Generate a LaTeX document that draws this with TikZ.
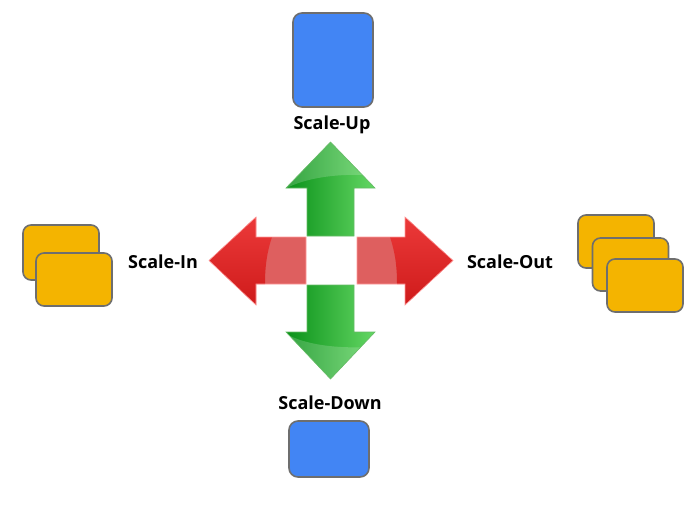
\documentclass[tikz,border=0pt]{standalone}
\usepackage{fontspec}
\setmainfont{Open Sans}
\usetikzlibrary{shapes.misc}
\definecolor{boxblue}{RGB}{66,133,244}
\definecolor{boxorange}{RGB}{244,180,0}
\definecolor{boxline}{RGB}{110,110,110}
\definecolor{gdark}{RGB}{10,145,25}
\definecolor{glight}{RGB}{100,215,100}
\definecolor{rdark}{RGB}{205,25,25}
\definecolor{rlight}{RGB}{238,60,60}
\definecolor{rshaft}{RGB}{222,95,95}
\tikzset{
  bluebox/.style={draw=boxline, line width=1.6pt, fill=boxblue, rounded corners=9pt, inner sep=0pt},
  orangebox/.style={draw=boxline, line width=1.6pt, fill=boxorange, rounded corners=8pt, inner sep=0pt},
  lbl/.style={font=\bfseries\fontsize{18}{21}\selectfont, inner sep=0pt},
  garrow/.style={left color=gdark, right color=glight},
  gedge/.style={draw=green!55!black!60!white, line width=0.6pt},
  redge/.style={draw=red!40!white, line width=0.6pt}
}
\begin{document}
\begin{tikzpicture}[x=1pt,y=-1pt]
\useasboundingbox (0,0) rectangle (693,509);
% boxes
\node[bluebox, minimum width=80pt, minimum height=94pt] (upbox) at (333,60) {};
\node[bluebox, minimum width=80pt, minimum height=56pt] (downbox) at (329,449) {};
\node[orangebox, minimum width=76pt, minimum height=55pt] (in1) at (61,252.5) {};
\node[orangebox, minimum width=76pt, minimum height=53pt] (in2) at (74,279.5) {};
\node[orangebox, minimum width=76pt, minimum height=53pt] (out1) at (616,241.5) {};
\node[orangebox, minimum width=76pt, minimum height=53pt] (out2) at (630.5,264.5) {};
\node[orangebox, minimum width=76pt, minimum height=53pt] (out3) at (645,285.5) {};
% labels
\node[lbl] (lup) at (332,125) {Scale-Up};
\node[lbl] (lin) at (163,262) {Scale-In};
\node[lbl] (lout) at (510,262) {Scale-Out};
\node[lbl] (ldown) at (330,403) {Scale-Down};
% up arrow
\path[garrow] (307,236) -- (307,188) -- (286,188) -- (330.5,142) -- (375,188) -- (354,188) -- (354,236) -- cycle;
\begin{scope}
\clip (307,236) -- (307,188) -- (286,188) -- (330.5,142) -- (375,188) -- (354,188) -- (354,236) -- cycle;
\fill[white, opacity=0.18] (280,192) .. controls (300,178) and (340,172) .. (380,176) -- (380,140) -- (280,140) -- cycle;
\end{scope}
\draw[gedge] (307,236) -- (307,188) -- (286,188) -- (330.5,142) -- (375,188) -- (354,188) -- (354,236) -- cycle;
% down arrow
\path[garrow] (307,285) -- (307,332) -- (286,332) -- (330.5,379) -- (375,332) -- (354,332) -- (354,285) -- cycle;
\begin{scope}
\clip (307,285) -- (307,332) -- (286,332) -- (330.5,379) -- (375,332) -- (354,332) -- (354,285) -- cycle;
\fill[white, opacity=0.18] (280,330) .. controls (300,345) and (340,350) .. (380,346) -- (380,385) -- (280,385) -- cycle;
\end{scope}
\draw[gedge] (307,285) -- (307,332) -- (286,332) -- (330.5,379) -- (375,332) -- (354,332) -- (354,285) -- cycle;
% left arrow
\begin{scope}
\clip (306,237) -- (256,237) -- (256,217) -- (209,260.5) -- (256,305) -- (256,284) -- (306,284) -- cycle;
\fill[rshaft] (200,210) rectangle (310,310);
\shade[top color=rlight, bottom color=rdark] (200,210) -- (272,210) -- (272,237) .. controls (266,255) and (265,270) .. (265,284) -- (265,310) -- (200,310) -- cycle;
\end{scope}
\draw[redge] (306,237) -- (256,237) -- (256,217) -- (209,260.5) -- (256,305) -- (256,284) -- (306,284) -- cycle;
% right arrow
\begin{scope}
\clip (357,237) -- (405,237) -- (405,217) -- (453,260.5) -- (405,305) -- (405,284) -- (357,284) -- cycle;
\fill[rshaft] (350,210) rectangle (460,310);
\shade[top color=rlight, bottom color=rdark] (460,210) -- (390,210) -- (390,237) .. controls (396,255) and (397,270) .. (397,284) -- (397,310) -- (460,310) -- cycle;
\end{scope}
\draw[redge] (357,237) -- (405,237) -- (405,217) -- (453,260.5) -- (405,305) -- (405,284) -- (357,284) -- cycle;
\end{tikzpicture}
\end{document}
